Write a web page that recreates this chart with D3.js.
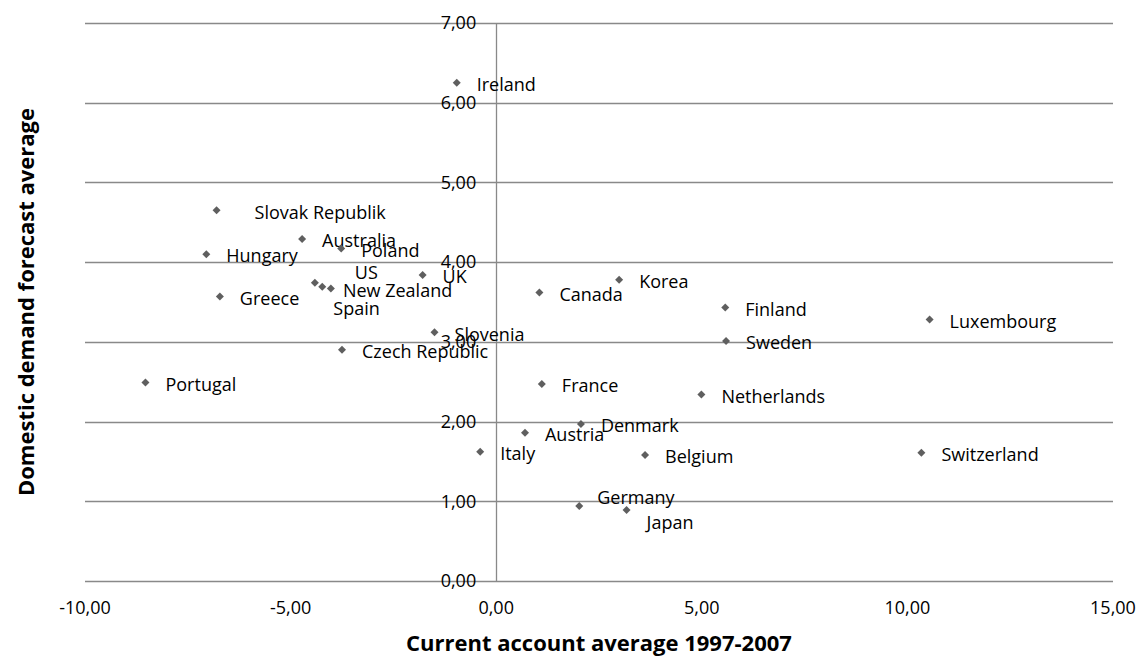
<!DOCTYPE html>
<html>
<head>
<meta charset="utf-8">
<script src="https://cdn.jsdelivr.net/npm/d3@7"></script>
<style>
	body { margin: 0; background: #fff; }
	svg { display: block; }
	.tick-label { font: 18px "Open Sans", sans-serif; fill: #000; }
	.point-label { font: 18px "Open Sans", sans-serif; fill: #000; }
	.axis-title { font: bold 22px "Open Sans", sans-serif; fill: #000; }
</style>
</head>
<body>
<svg></svg>
<script>
var countries = ["Ireland", "Slovak Republik", "Australia", "Poland", "Hungary", "UK", "US", "Spain",
	"New Zealand", "Greece", "Canada", "Korea", "Finland", "Sweden", "France", "Netherlands", "Denmark",
	"Austria", "Italy", "Belgium", "Germany", "Japan", "Luxembourg", "Switzerland", "Slovenia",
	"Czech Republic", "Portugal"];
var currentAccount = [-0.96, -6.80, -4.72, -3.77, -7.05, -1.79, -4.41, -4.23,
	-4.02, -6.72, 1.05, 2.99, 5.57, 5.59, 1.11, 4.99, 2.06,
	0.70, -0.39, 3.62, 2.02, 3.17, 10.54, 10.34, -1.50,
	-3.75, -8.53];
var demandForecast = [6.25, 4.65, 4.29, 4.17, 4.10, 3.84, 3.74, 3.69,
	3.67, 3.57, 3.62, 3.78, 3.43, 3.01, 2.47, 2.34, 1.97,
	1.86, 1.62, 1.58, 0.94, 0.89, 3.28, 1.61, 3.12,
	2.90, 2.49];
var xTicks = [-10, -5, 0, 5, 10, 15];
var yTicks = [0, 1, 2, 3, 4, 5, 6, 7];

// hand-moved labels in the original (px offsets from the default spot)
var labelNudge = {
	"Slovak Republik": [18, 0],
	"US": [20, -12],
	"New Zealand": [-8, 0],
	"Spain": [-9, 20],
	"Germany": [-2, -10],
	"Japan": [0, 11]
};

var data = countries.map(function(c, i) {
	return {name: c, x: currentAccount[i], y: demandForecast[i]};
});

var W = 1138, H = 657;
var svg = d3.select("svg").attr("width", W).attr("height", H);

var x = d3.scaleLinear().domain([-10, 15]).range([85, 1113]);
var y = d3.scaleLinear().domain([0, 7]).range([581, 23]);
var fmt = function(v) { return d3.format(".2f")(v).replace(".", ",").replace("−", "-"); };

var grid = "#898989";

//Grid Lines
svg.append("g").selectAll("line").data(yTicks).enter().append("line")
	.attr("x1", x(-10)).attr("x2", x(15))
	.attr("y1", function(d) { return Math.round(y(d)) + 0.5; })
	.attr("y2", function(d) { return Math.round(y(d)) + 0.5; })
	.attr("stroke", grid).attr("stroke-width", 1.3);

//Vertical axis at x = 0
svg.append("line")
	.attr("x1", Math.round(x(0)) + 0.5).attr("x2", Math.round(x(0)) + 0.5)
	.attr("y1", y(7)).attr("y2", y(0))
	.attr("stroke", grid).attr("stroke-width", 1.3);

//Tick labels
svg.append("g").selectAll("text").data(yTicks).enter().append("text")
	.attr("class", "tick-label")
	.attr("x", x(0) - 20)
	.attr("y", function(d) { return y(d); })
	.attr("dy", "0.35em")
	.attr("text-anchor", "end")
	.text(fmt);

svg.append("g").selectAll("text").data(xTicks).enter().append("text")
	.attr("class", "tick-label")
	.attr("x", function(d) { return x(d); })
	.attr("y", 608)
	.attr("dy", "0.35em")
	.attr("text-anchor", "middle")
	.text(fmt);

//Axis titles
svg.append("text").attr("class", "axis-title")
	.attr("x", (x(-10) + x(15)) / 2).attr("y", 643).attr("dy", "0.35em")
	.attr("text-anchor", "middle")
	.text("Current account average 1997-2007");

svg.append("text").attr("class", "axis-title")
	.attr("transform", "translate(26," + (y(0) + y(7)) / 2 + ") rotate(270)")
	.attr("dy", "0.35em")
	.attr("text-anchor", "middle")
	.text("Domestic demand forecast average");

//Plot data
var pts = svg.append("g").selectAll("g").data(data).enter().append("g")
	.attr("transform", function(d) { return "translate(" + x(d.x) + "," + y(d.y) + ")"; });

pts.append("path")
	.attr("d", d3.symbol().type(d3.symbolSquare).size(32))
	.attr("transform", "rotate(45)")
	.attr("fill", "#5f5f5f");

pts.append("text")
	.attr("class", "point-label")
	.attr("x", function(d) { return 20 + (labelNudge[d.name] ? labelNudge[d.name][0] : 0); })
	.attr("y", function(d) { return 2 + (labelNudge[d.name] ? labelNudge[d.name][1] : 0); })
	.attr("dy", "0.35em")
	.text(function(d) { return d.name; });
</script>
</body>
</html>
